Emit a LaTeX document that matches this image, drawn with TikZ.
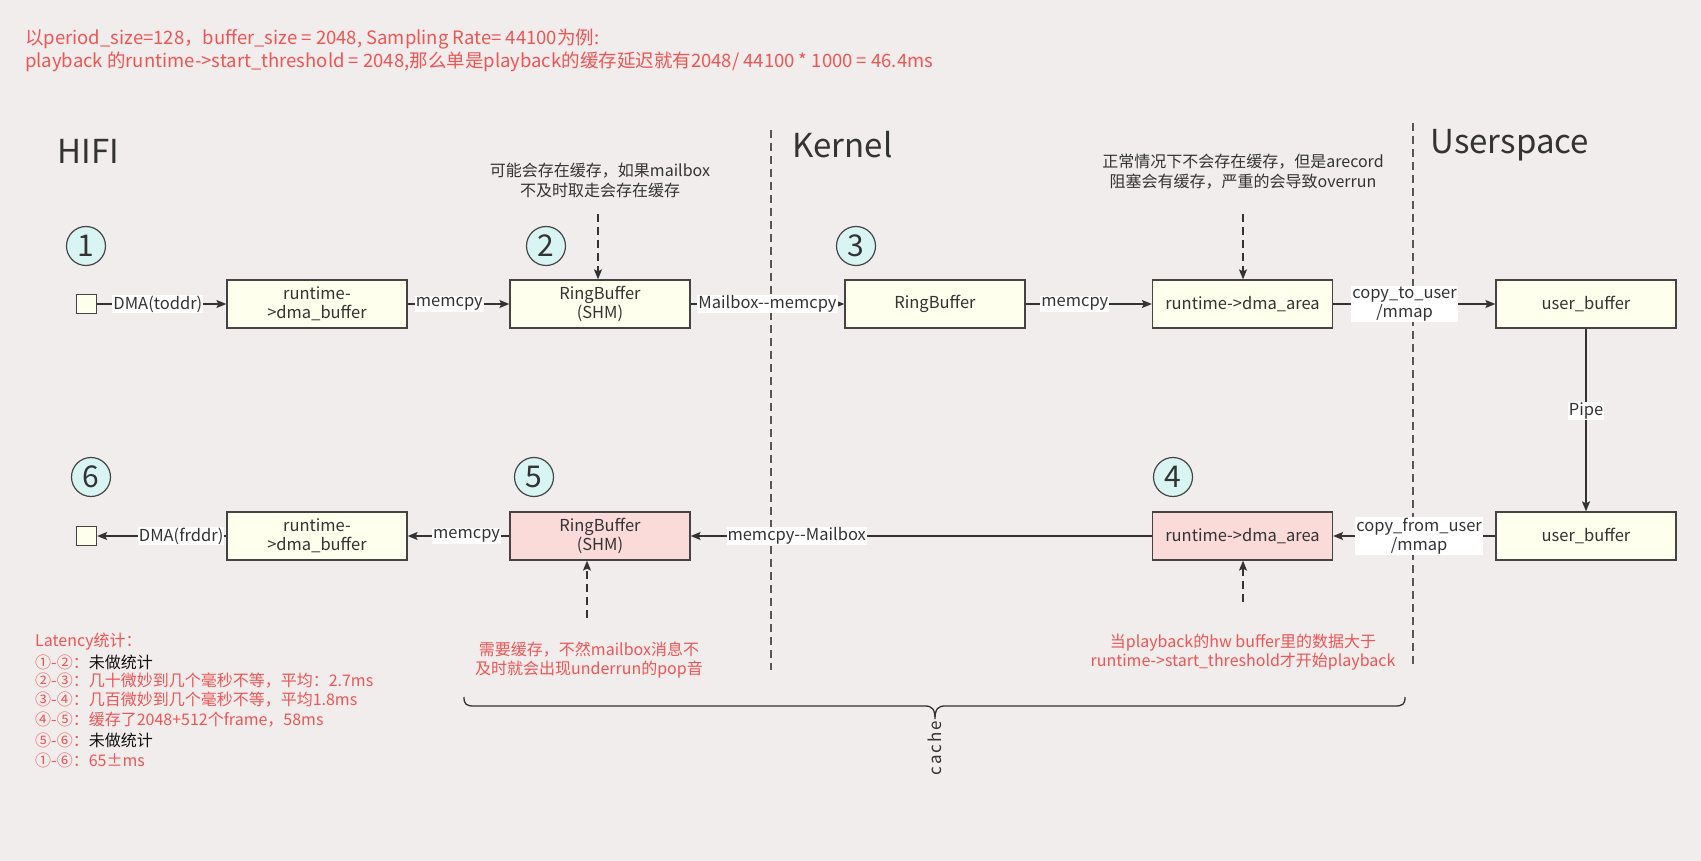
\documentclass[tikz,border=0pt]{standalone}
\usepackage{fontspec}
\setmainfont{Noto Sans CJK SC}
\usetikzlibrary{arrows.meta,calc}
\definecolor{bgc}{HTML}{F0EDEC}
\definecolor{cream}{HTML}{FFFFEE}
\definecolor{pinkc}{HTML}{FADBD9}
\definecolor{cyanc}{HTML}{D9F5F3}
\definecolor{redt}{HTML}{EE5555}
\definecolor{dark}{HTML}{333333}
\definecolor{edgec}{HTML}{444444}
\definecolor{blk}{HTML}{111111}
\newcommand{\myfs}[2]{\fontsize{#1}{#2}\selectfont}
\begin{document}
\begin{tikzpicture}[x=1pt,y=-1pt,
  box/.style={draw=edgec, line width=1.3pt, fill=cream, minimum width=180pt, minimum height=48pt, inner sep=0pt, align=center, font=\myfs{16.5}{19.5}, text=dark},
  pbox/.style={box, fill=pinkc},
  sq/.style={draw=edgec, line width=1.3pt, fill=cream, minimum width=20pt, minimum height=19pt, inner sep=0pt},
  num/.style={circle, draw=edgec, line width=1.2pt, fill=cyanc, minimum size=39pt, inner sep=0pt, font=\myfs{30}{30}, text=dark},
  conn/.style={draw=dark, line width=1.3pt, -{Stealth[length=10pt,width=8pt,inset=2pt]}},
  dconn/.style={conn, dash pattern=on 8pt off 5pt},
  lab/.style={fill=white, inner sep=1pt, font=\myfs{16.5}{19.5}, text=dark, align=center},
  ann/.style={align=center, font=\myfs{16}{20}, text=dark},
  rann/.style={align=center, font=\myfs{16}{19.5}, text=redt},
  head/.style={anchor=base west, font=\myfs{33}{36}, text=dark},
  lat/.style={anchor=west, font=\myfs{16}{19.6}, text=redt, inner sep=0pt},
  toptxt/.style={anchor=west, font=\myfs{18.5}{22}, text=redt, inner sep=0pt},
  vsep/.style={draw=edgec!90, line width=1.2pt, dash pattern=on 8pt off 5pt}
]
\fill[bgc] (0,0) rectangle (1701,861);
\useasboundingbox (0,0) rectangle (1701,861);

% top text
\node[toptxt] (top1) at (25,39) {以period\_size=128，buffer\_size = 2048, Sampling Rate= 44100为例:};
\node[toptxt] (top2) at (25,62) {playback 的runtime->start\_threshold = 2048,那么单是playback的缓存延迟就有2048/ 44100 * 1000 = 46.4ms};

% headings
\node[head] (hifi) at (54,164) {HIFI};
\node[head] (kern) at (789,158) {Kernel};
\node[head] (user) at (1427,154) {Userspace};

% separators
\coordinate (v1a) at (771,130); \coordinate (v1b) at (771,670);
\coordinate (v2a) at (1413,123); \coordinate (v2b) at (1413,665);
\draw[vsep] (v1a) -- (v1b);
\draw[vsep] (v2a) -- (v2b);

% row 1
\node[sq] (s1) at (86.5,304) {};
\node[box] (a1) at (317,304) {runtime-\\>dma\_buffer};
\node[box] (b1) at (600,304) {RingBuffer\\(SHM)};
\node[box] (c1) at (935,304) {RingBuffer};
\node[box] (d1) at (1242.5,304) {runtime->dma\_area};
\node[box] (e1) at (1586,304) {user\_buffer};

% row 2
\node[sq] (s2) at (86.5,536) {};
\node[box] (a2) at (317,536) {runtime-\\>dma\_buffer};
\node[pbox] (b2) at (600,536) {RingBuffer\\(SHM)};
\node[pbox] (d2) at (1242.5,536) {runtime->dma\_area};
\node[box] (e2) at (1586,536) {user\_buffer};

% numbers
\node[num] (n1) at (86,246) {1};
\node[num] (n2) at (546,246) {2};
\node[num] (n3) at (856,246) {3};
\node[num] (n4) at (1173,477) {4};
\node[num] (n5) at (534,477) {5};
\node[num] (n6) at (91,477) {6};

% connectors row 1
\draw[conn] (s1) -- node[lab,pos=.47]{DMA(toddr)} (a1);
\draw[conn] (a1) -- node[lab,pos=.41]{memcpy} (b1);
\draw[conn] (b1) -- node[lab,pos=.5]{Mailbox-{}-memcpy} (c1);
\draw[conn] (c1) -- node[lab,pos=.39]{memcpy} (d1);
\draw[conn] (d1) -- node[lab,pos=.44]{copy\_to\_user\\/mmap} (e1);
\draw[conn] (e1) -- node[lab,pos=.45]{Pipe} (e2);
% connectors row 2
\draw[conn] (e2) -- node[lab,pos=.47]{copy\_from\_user\\/mmap} (d2);
\draw[conn] (d2) -- node[lab,pos=.77]{memcpy-{}-Mailbox} (b2);
\draw[conn] (b2) -- node[lab,pos=.42]{memcpy} (a2);
\draw[conn] (a2) -- node[lab,pos=.35]{DMA(frddr)} (s2);

% annotations
\node[ann] (t1) at (600,180) {可能会存在缓存，如果mailbox\\不及时取走会存在缓存};
\node[ann] (t2) at (1243,172) {正常情况下不会存在缓存，但是arecord\\阻塞会有缓存，严重的会导致overrun};
\coordinate (q1) at (598,214);
\coordinate (q2) at (1243,214);
\draw[dconn] (q1) -- (q1 |- b1.north);
\draw[dconn] (q2) -- (q2 |- d1.north);
\coordinate (q3) at (587,618);
\coordinate (q4) at (1243,602);
\draw[dconn] (q3) -- (q3 |- b2.south);
\draw[dconn] (q4) -- (q4 |- d2.south);
\node[rann] (t3) at (589,660) {需要缓存，不然mailbox消息不\\及时就会出现underrun的pop音};
\node[rann] (t4) at (1243,652) {当playback的hw buffer里的数据大于\\runtime->start\_threshold才开始playback};

% brace
\draw[dark, line width=1.3pt] (464,697) .. controls (464,704) and (466,706) .. (474,706) -- (925,706) .. controls (932,706) and (935,709) .. (935,719) .. controls (935,709) and (938,706) .. (945,706) -- (1395,706) .. controls (1403,706) and (1405,704) .. (1405,697);
\node[rotate=90, font=\myfs{17}{20}\addfontfeature{LetterSpace=12}, text=dark] (cache) at (935,748) {cache};

% latency
\node[lat] (l1) at (35,642) {Latency统计：};
\node[lat] (l2) at (35,662) {①-②：\textcolor{blk}{未做统计}};
\node[lat] (l3) at (35,681) {②-③：几十微妙到几个毫秒不等，平均：2.7ms};
\node[lat] (l4) at (35,700) {③-④：几百微妙到几个毫秒不等，平均1.8ms};
\node[lat] (l5) at (35,720) {④-⑤：缓存了2048+512个frame，58ms};
\node[lat] (l6) at (35,740) {⑤-⑥：\textcolor{blk}{未做统计}};
\node[lat] (l7) at (35,760) {①-⑥：65±ms};
\end{tikzpicture}
\end{document}
